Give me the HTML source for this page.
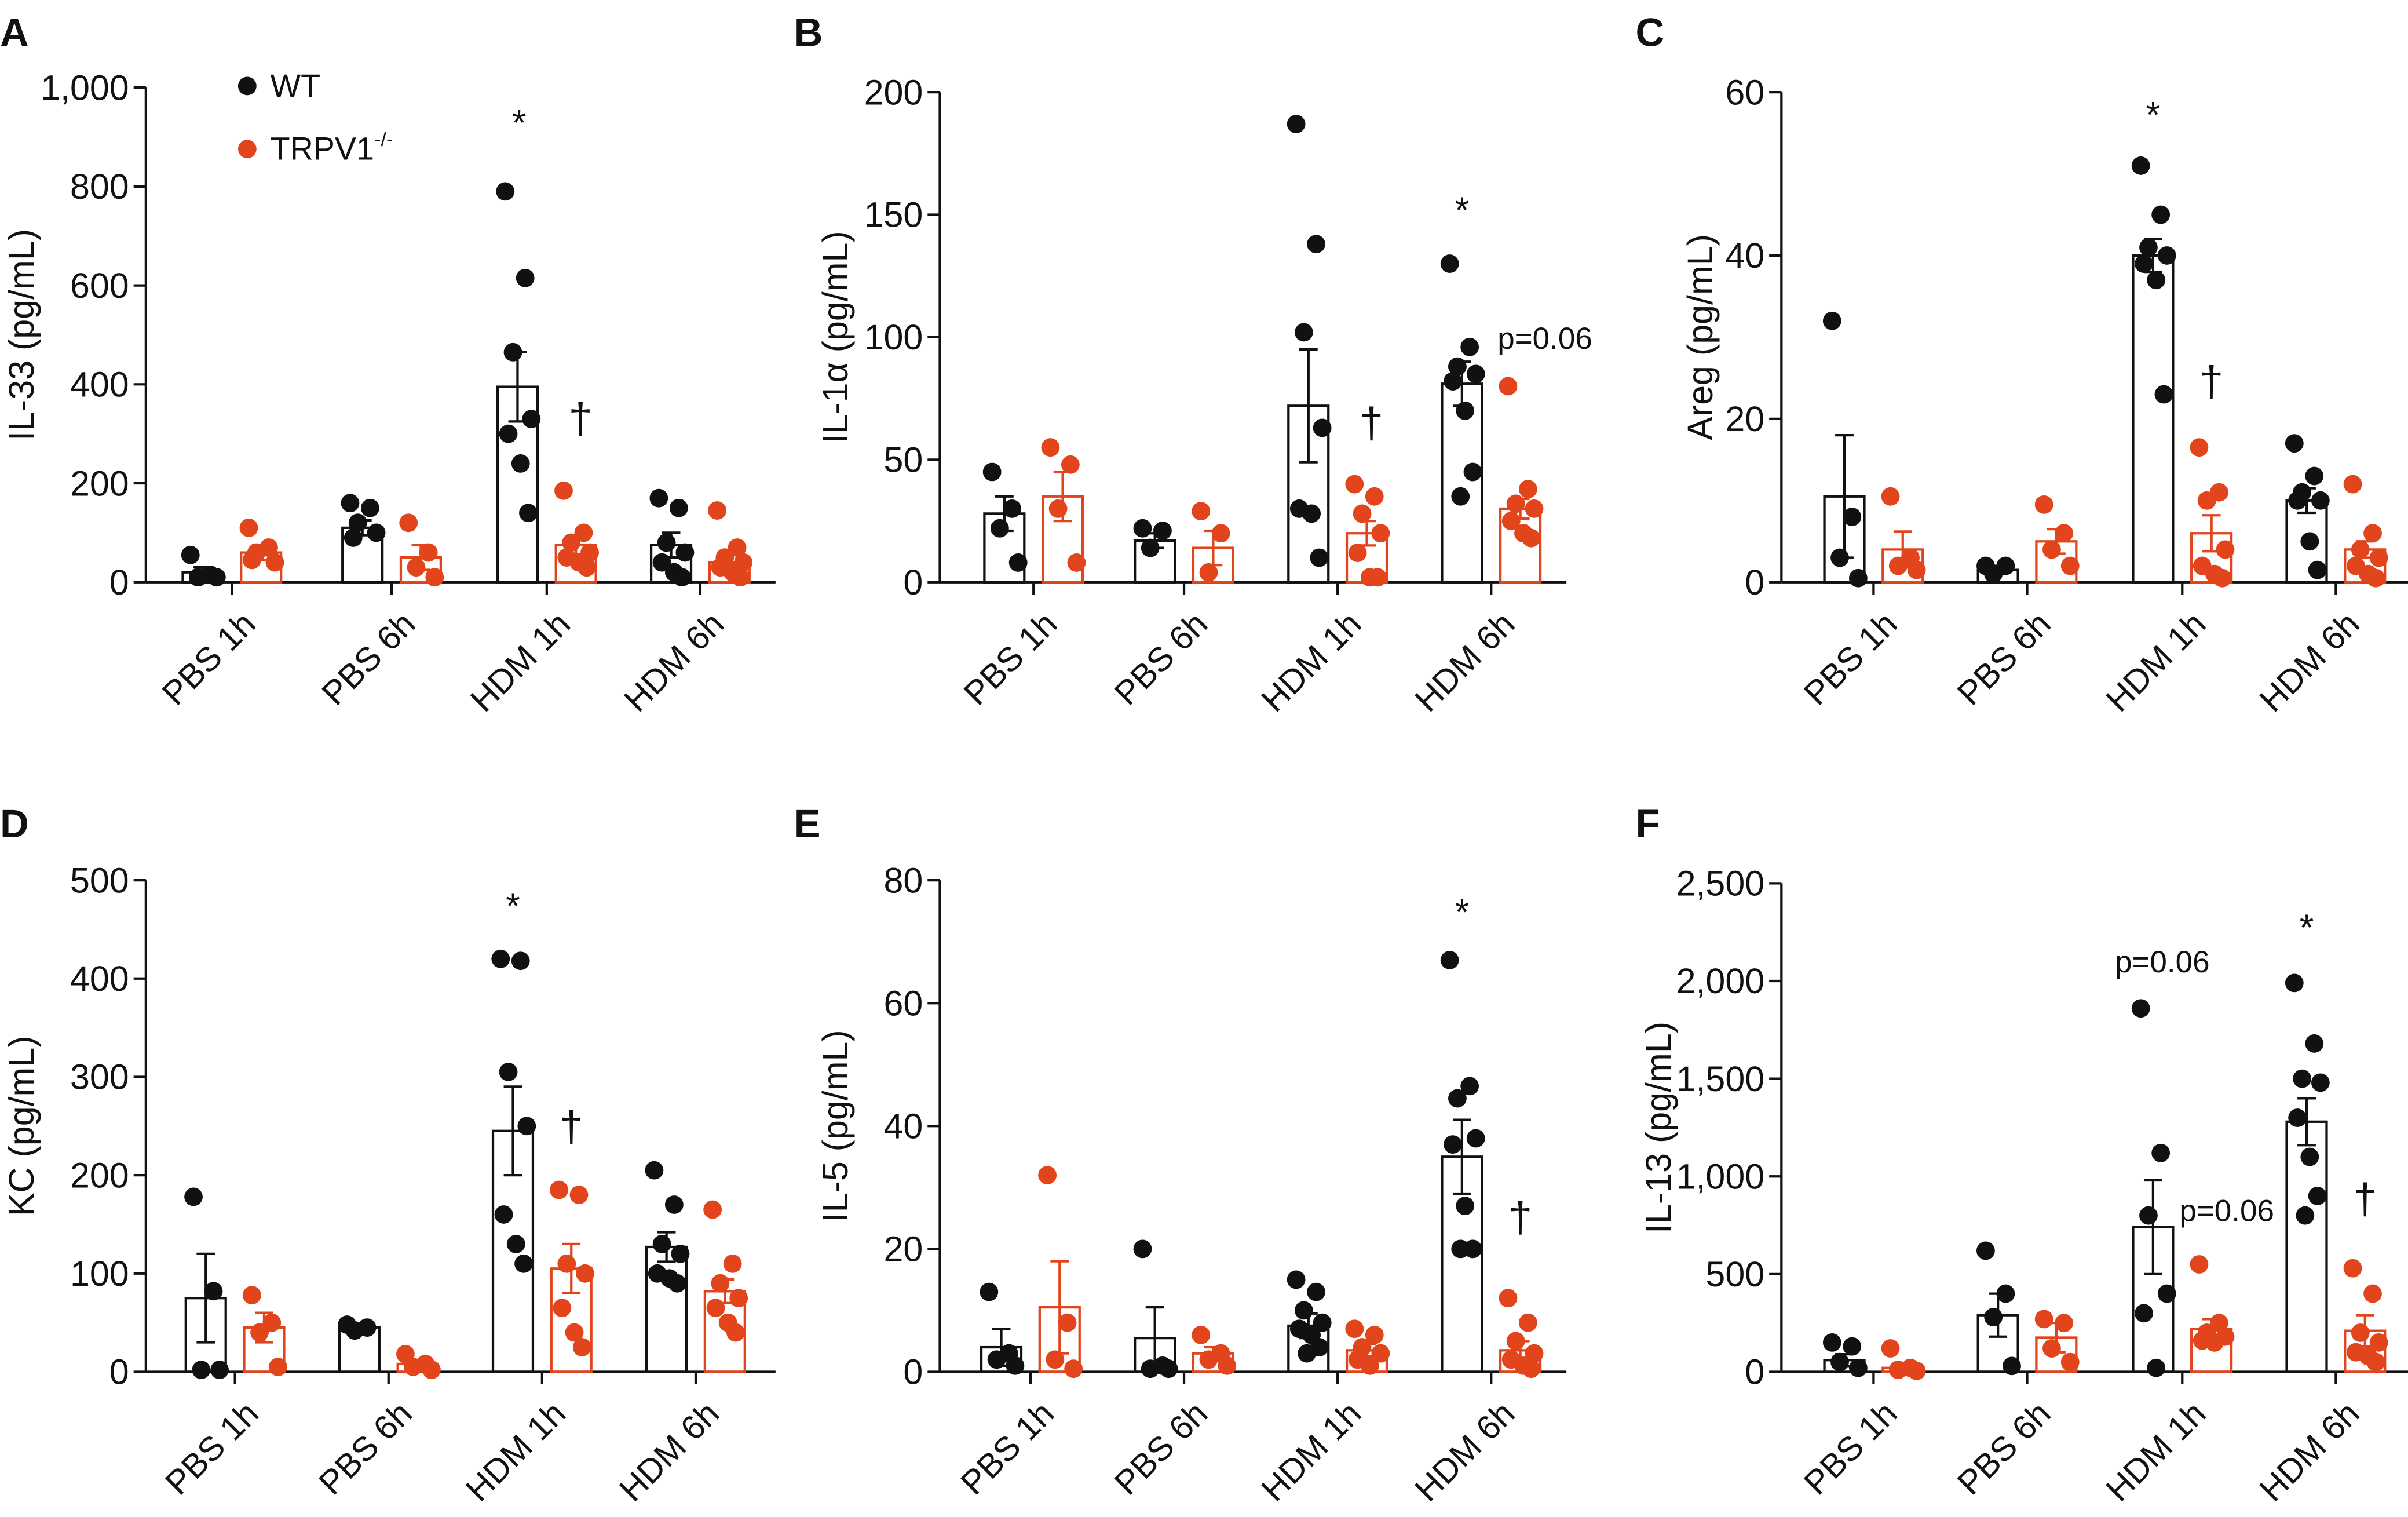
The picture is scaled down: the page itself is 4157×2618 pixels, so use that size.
<!DOCTYPE html>
<html><head><meta charset="utf-8">
<style>
html,body{margin:0;padding:0;background:#fff;}
svg{display:block;}
text{font-family:"Liberation Sans",sans-serif;fill:#111;}
</style></head>
<body>
<svg id="chart" width="4157" height="2618" viewBox="0 0 1568 987.5" xmlns="http://www.w3.org/2000/svg">
<rect x="0" y="0" width="1568" height="987.5" fill="#fff"/>
<g>
  <circle cx="161" cy="56" r="6" fill="#111"/>
  <text x="176" y="63" font-size="21">WT</text>
  <circle cx="161" cy="97" r="6" fill="#e2441c"/>
  <text x="176" y="104" font-size="21">TRPV1<tspan font-size="13" dy="-9">-/-</tspan></text>
</g>
</svg>
<script>
const categories=["PBS 1h","PBS 6h","HDM 1h","HDM 6h"];

const aTicks=[0,200,400,600,800,1000];
const aTickLabels=["0","200","400","600","800","1,000"];
const aWtMean=[20,110,395,75];
const aWtSem=[10,15,70,25];
const aWtPts=[[55,15,10,10],[160,150,120,100,90],[790,615,465,330,300,240,140],[170,150,80,60,40,20,10]];
const aTrMean=[60,50,75,40];
const aTrSem=[15,25,20,15];
const aTrPts=[[110,70,60,40,45],[120,60,30,10],[185,100,80,60,50,40,30],[145,70,50,40,30,20,10]];

const bTicks=[0,50,100,150,200];
const bTickLabels=["0","50","100","150","200"];
const bWtMean=[28,17,72,81];
const bWtSem=[7,3,23,9];
const bWtPts=[[45,30,22,8],[22,21,14],[187,138,102,63,30,28,10],[130,96,88,85,82,70,45,35]];
const bTrMean=[35,14,20,30];
const bTrSem=[10,7,5,4];
const bTrPts=[[55,48,30,8],[29,20,4],[40,35,28,20,12,2,2],[80,38,32,30,25,20,18]];

const cTicks=[0,20,40,60];
const cTickLabels=["0","20","40","60"];
const cWtMean=[10.5,1.5,40,10];
const cWtSem=[7.5,0.5,2,1.5];
const cWtPts=[[32,8,3,0.5],[2,2,1],[51,45,41,40,39,37,23],[17,13,11,10,10,5,1.5]];
const cTrMean=[4,5,6,4];
const cTrSem=[2.2,1.5,2.2,1];
const cTrPts=[[10.5,3,2,1.5],[9.5,6,4,2],[16.5,11,10,4,2,1,0.5],[12,6,4,3,2,1,0.5]];

const dTicks=[0,100,200,300,400,500];
const dTickLabels=["0","100","200","300","400","500"];
const dWtMean=[75,45,245,127];
const dWtSem=[45,3,45,15];
const dWtPts=[[178,82,2,2],[48,45,42],[420,418,305,250,160,130,110],[205,170,130,120,100,95,90]];
const dTrMean=[45,8,105,82];
const dTrSem=[15,3,25,12];
const dTrPts=[[78,50,40,5],[18,8,5,2],[185,180,110,100,65,40,25],[165,110,90,75,65,50,40]];

const eTicks=[0,20,40,60,80];
const eTickLabels=["0","20","40","60","80"];
const eWtMean=[4,5.5,7.5,35];
const eWtSem=[3,5,2,6];
const eWtPts=[[13,3,2,1],[20,1,0.5,0.5],[15,13,10,8,7,6,4,3],[67,46.5,44.5,38,37,27,20,20]];
const eTrMean=[10.5,3,3.5,3.5];
const eTrSem=[7.5,1,1,1.5];
const eTrPts=[[32,8,2,0.5],[6,3,2,1],[7,6,4,3,2,1],[12,8,5,3,2,1,0.5]];

const fTicks=[0,500,1000,1500,2000,2500];
const fTickLabels=["0","500","1,000","1,500","2,000","2,500"];
const fWtMean=[60,290,740,1280];
const fWtSem=[30,110,240,120];
const fWtPts=[[150,130,50,20],[620,400,280,30],[1860,1120,800,400,300,20],[1990,1680,1500,1480,1300,1100,900,800]];
const fTrMean=[20,175,220,210];
const fTrSem=[15,75,50,80];
const fTrPts=[[120,20,10,5],[270,250,120,50],[550,250,200,180,160,150],[530,400,200,150,100,80,50]];

const NS="http://www.w3.org/2000/svg";
const svg=document.getElementById('chart');
const RED="#e2441c", BLK="#111";
const jit=[-8,5,-3,9,-6,2,7,-1];
function mk(tag,attrs,parent){const e=document.createElementNS(NS,tag);for(const k in attrs)e.setAttribute(k,attrs[k]);(parent||svg).appendChild(e);return e;}

const panels=[
 {id:"a",letter:"A",title:"IL-33 (pg/mL)",ax:95,yTop:57,yBot:379,xEnd:505,centers:[151,255,356,456],titleX:14,ticks:aTicks,labels:aTickLabels,wm:aWtMean,ws:aWtSem,wp:aWtPts,tm:aTrMean,ts:aTrSem,tp:aTrPts,
  ann:[["*",338,88,24],["†",378,282,28]]},
 {id:"b",letter:"B",title:"IL-1α (pg/mL)",ax:612,yTop:60,yBot:379,xEnd:1020,centers:[673,771,871,971],titleX:544,ticks:bTicks,labels:bTickLabels,wm:bWtMean,ws:bWtSem,wp:bWtPts,tm:bTrMean,ts:bTrSem,tp:bTrPts,
  ann:[["*",952,145,24],["p=0.06",1006,227,20],["†",893,285,28]]},
 {id:"c",letter:"C",title:"Areg (pg/mL)",ax:1160,yTop:60,yBot:379,xEnd:1568,centers:[1220,1320,1421,1521],titleX:1107,ticks:cTicks,labels:cTickLabels,wm:cWtMean,ws:cWtSem,wp:cWtPts,tm:cTrMean,ts:cTrSem,tp:cTrPts,
  ann:[["*",1402,83,24],["†",1440,258,28]]},
 {id:"d",letter:"D",title:"KC (pg/mL)",ax:95,yTop:573,yBot:893,xEnd:505,centers:[153,253,353,453],titleX:14,ticks:dTicks,labels:dTickLabels,wm:dWtMean,ws:dWtSem,wp:dWtPts,tm:dTrMean,ts:dTrSem,tp:dTrPts,
  ann:[["*",334,598,24],["†",372,743,28]]},
 {id:"e",letter:"E",title:"IL-5 (pg/mL)",ax:612,yTop:573,yBot:893,xEnd:1020,centers:[671,771,871,971],titleX:544,ticks:eTicks,labels:eTickLabels,wm:eWtMean,ws:eWtSem,wp:eWtPts,tm:eTrMean,ts:eTrSem,tp:eTrPts,
  ann:[["*",952,602,24],["†",990,802,28]]},
 {id:"f",letter:"F",title:"IL-13 (pg/mL)",ax:1160,yTop:575,yBot:893,xEnd:1568,centers:[1220,1320,1421,1521],titleX:1080,ticks:fTicks,labels:fTickLabels,wm:fWtMean,ws:fWtSem,wp:fWtPts,tm:fTrMean,ts:fTrSem,tp:fTrPts,
  ann:[["p=0.06",1408,633,20],["p=0.06",1450,795,20],["*",1502,612,24],["†",1540,790,28]]}
];

panels.forEach(p=>{
  const max=p.ticks[p.ticks.length-1];
  const ys=v=>p.yBot-v/max*(p.yBot-p.yTop);
  const g=mk('g',{});
  
  
  const L=mk('text',{x:(p.ax-95),y:(p.yTop<100?30:545),'font-size':26,'font-weight':'bold'},g);
  L.textContent=p.letter;
  
  
  const ya=mk('line',{x1:p.ax,y1:p.yTop,x2:p.ax,y2:p.yBot,stroke:BLK,'stroke-width':1.6},g);
  
  
  const xa=mk('line',{x1:p.ax,y1:p.yBot,x2:p.xEnd,y2:p.yBot,stroke:BLK,'stroke-width':1.6},g);
  
  
  p.ticks.forEach((t,i)=>{
    const y=ys(t);
    const tk=mk('line',{x1:p.ax-8,y1:y,x2:p.ax,y2:y,stroke:BLK,'stroke-width':1.6},g);
    
    
    const tl=mk('text',{x:p.ax-11,y:y+8,'font-size':23,'text-anchor':'end'},g);
    tl.textContent=p.labels[i];
    
    
  });
  const cy=(p.yTop+p.yBot)/2;
  const yt=mk('text',{x:p.titleX,y:cy,'font-size':23,'text-anchor':'middle','dominant-baseline':'central',transform:`rotate(-90 ${p.titleX} ${cy})`},g);
  yt.textContent=p.title;
  
  
  categories.forEach((c,i)=>{
    const cx=p.centers[i];
    const tk=mk('line',{x1:cx,y1:p.yBot,x2:cx,y2:p.yBot+8,stroke:BLK,'stroke-width':1.6},g);
    
    
    const tx=cx+6, ty=p.yBot+18;
    const xl=mk('text',{x:tx,y:ty,'font-size':22,'text-anchor':'end',transform:`rotate(-45 ${tx} ${ty})`},g);
    xl.setAttribute('dy','15');
    xl.textContent=c;
    
    
    [[p.wm,p.ws,p.wp,BLK,-19,'wt'],[p.tm,p.ts,p.tp,RED,19,'trpv1']].forEach(s=>{
      const [m,se,pts,col,off,nm]=s;
      const bx=cx+off, bw=26;
      const bar=mk('rect',{x:bx-bw/2,y:ys(m[i]),width:bw,height:p.yBot-ys(m[i]),fill:'none',stroke:col,'stroke-width':1.6},g);
      
      
      const eb=mk('path',{d:`M${bx},${ys(Math.max(0,m[i]-se[i]))}V${ys(m[i]+se[i])}M${bx-6},${ys(m[i]+se[i])}H${bx+6}M${bx-6},${ys(Math.max(0,m[i]-se[i]))}H${bx+6}`,stroke:col,'stroke-width':1.6,fill:'none'},g);
      
      
      pts[i].forEach((v,k)=>{
        const d=mk('circle',{cx:bx+jit[k%jit.length],cy:ys(v),r:6,fill:col},g);
        
        
      });
    });
  });
  p.ann.forEach(a=>{
    const t=mk('text',{x:a[1],y:a[2],'font-size':a[3],'text-anchor':'middle'},g);
    t.textContent=a[0];
    
    
  });
});
</script>
</body></html>
